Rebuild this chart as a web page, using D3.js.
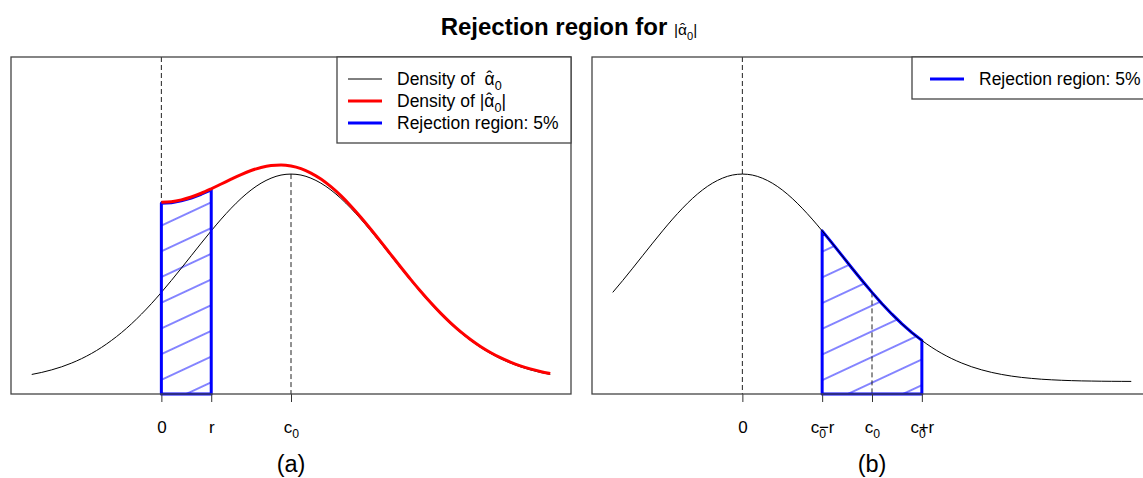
<!DOCTYPE html>
<html>
<head>
<meta charset="utf-8">
<script src="https://cdn.jsdelivr.net/npm/d3@7"></script>
<style>
  body { margin: 0; background: #fff; }
  text { font-family: "Liberation Sans", Arial, sans-serif; fill: #000; white-space: pre; }
</style>
</head>
<body>
<svg id="chart" width="1143" height="478"></svg>
<script>
// x positions of the sampled curves (same range in both panels)
const xGrid = [-1.3,-1.2,-1.1,-1.0,-0.9,-0.8,-0.7,-0.6,-0.5,-0.4,-0.3,-0.2,-0.1,0.0,
  0.1,0.2,0.3,0.4,0.5,0.6,0.7,0.8,0.9,1.0,1.1,1.2,1.3,1.4,1.5,1.6,1.7,1.8,1.9,2.0,
  2.1,2.2,2.3,2.4,2.5,2.6,2.7,2.8,2.9,3.0,3.1,3.2,3.3,3.4,3.5,3.6,3.7,3.8,3.9];
const xGridAbs = xGrid.slice(13);

// panel (a): density of alpha0-hat, centred on c0
const densAlpha = [0.0136,0.0175,0.0224,0.0283,0.0355,0.0440,0.0540,0.0656,0.0790,0.0940,
  0.1109,0.1295,0.1497,0.1714,0.1942,0.2179,0.2420,0.2661,0.2897,0.3123,0.3332,0.3521,
  0.3683,0.3814,0.3910,0.3970,0.3989,0.3970,0.3910,0.3814,0.3683,0.3521,0.3332,0.3123,
  0.2897,0.2661,0.2420,0.2179,0.1942,0.1714,0.1497,0.1295,0.1109,0.0940,0.0790,0.0656,
  0.0540,0.0440,0.0355,0.0283,0.0224,0.0175,0.0136];
// panel (a): density of |alpha0-hat|
const densAbs = [0.3428,0.3439,0.3474,0.3529,0.3601,0.3687,0.3779,0.3872,0.3961,0.4038,
  0.4097,0.4134,0.4145,0.4125,0.4074,0.3989,0.3874,0.3727,0.3554,0.3356,0.3140,0.2909,
  0.2670,0.2426,0.2183,0.1945,0.1716,0.1498,0.1295,0.1109,0.0940,0.0790,0.0656,0.0540,
  0.0440,0.0355,0.0283,0.0224,0.0175,0.0136];
// panel (b): density centred on 0
const densNull = [0.1714,0.1942,0.2179,0.2420,0.2661,0.2897,0.3123,0.3332,0.3521,0.3683,
  0.3814,0.3910,0.3970,0.3989,0.3970,0.3910,0.3814,0.3683,0.3521,0.3332,0.3123,0.2897,
  0.2661,0.2420,0.2179,0.1942,0.1714,0.1497,0.1295,0.1109,0.0940,0.0790,0.0656,0.0540,
  0.0440,0.0355,0.0283,0.0224,0.0175,0.0136,0.0104,0.0079,0.0060,0.0044,0.0033,0.0024,
  0.0017,0.0012,0.0009,0.0006,0.0004,0.0003,0.0002];

const c0 = 1.3;
const r = 0.5;
const ticksA = [0, r, c0];
const tickLabelsA = [["0"], ["r"], [["c"], ["0", "sub"]]];
const ticksB = [0, c0 - r, c0, c0 + r];
const tickLabelsB = [["0"], [["c"], ["0", "sub"], ["\u2212r", "over"]], [["c"], ["0", "sub"]], [["c"], ["0", "sub"], ["+r", "over"]]];

const svg = d3.select("#chart");
const plotTop = 57, plotBottom = 394, panelW = 560;
const y = d3.scaleLinear([-0.024, 0.624], [plotBottom, plotTop]);
const xA = d3.scaleLinear([-1.508, 4.108], [11, 11 + panelW]);
const xB = d3.scaleLinear([-1.508, 4.108], [592, 592 + panelW]);

const hatchGap = 23.3;
svg.append("defs").append("pattern")
    .attr("id", "hatch")
    .attr("patternUnits", "userSpaceOnUse")
    .attr("width", 20).attr("height", hatchGap)
    .attr("patternTransform", `translate(161,${301.7 - hatchGap / 2}) rotate(-25)`)
  .append("line")
    .attr("x1", 0).attr("x2", 20)
    .attr("y1", hatchGap / 2).attr("y2", hatchGap / 2)
    .attr("stroke", "blue").attr("stroke-width", 1.1).attr("stroke-opacity", 0.85);

// text with sub-scripts and hats
function rich(text, parts, size) {
  let shift = 0;
  let pendingDx = 0;
  parts.forEach(([t, kind]) => {
    const ts = text.append("tspan").text(t).attr("font-size", size);
    let want = 0;
    let dx = pendingDx;
    pendingDx = 0;
    if (kind === "sub") { want = size * 0.3; ts.attr("font-size", size * 0.72); }
    if (kind === "over") { dx += -size * 0.42; }
    if (dx) ts.attr("dx", dx);
    if (want - shift !== 0) ts.attr("dy", want - shift);
    shift = want;
    if (kind === "hat") {
      // circumflex centred over the letter just written
      text.append("tspan").text("\u02c6").attr("font-size", size)
          .attr("dx", -0.46 * size).attr("dy", -0.05 * size);
      shift = -0.05 * size;
      pendingDx = 0.13 * size;
    }
  });
}

const line = x => d3.line().x(d => x(d[0])).y(d => y(d[1])).curve(d3.curveMonotoneX);

function region(xs, ys, lo, hi) {
  const pts = xs.map((v, i) => [v, ys[i]]).filter(d => d[0] >= lo - 1e-9 && d[0] <= hi + 1e-9);
  return [[lo, y.domain()[0]], ...pts, [hi, y.domain()[0]]];
}

function frame(g, x, ticks, labels, sub) {
  const axis = g.append("g")
      .attr("transform", `translate(0,${plotBottom})`)
      .call(d3.axisBottom(x).tickValues(ticks).tickFormat("").tickSize(8).tickSizeOuter(0));
  axis.select(".domain").remove();
  axis.selectAll(".tick line").attr("stroke", "#333");
  axis.selectAll(".tick").each(function(d, i) {
    const t = d3.select(this).append("text")
        .attr("y", 39).attr("text-anchor", "middle").attr("font-size", 17);
    const lab = labels[i];
    rich(t, typeof lab[0] === "string" ? [lab] : lab, 17);
  });
  g.append("rect")
      .attr("x", x.range()[0]).attr("y", plotTop)
      .attr("width", x.range()[1] - x.range()[0]).attr("height", plotBottom - plotTop)
      .attr("fill", "none").attr("stroke", "#444").attr("stroke-width", 1.3);
  g.append("text")
      .attr("x", (x.range()[0] + x.range()[1]) / 2).attr("y", 472)
      .attr("text-anchor", "middle").attr("font-size", 23.5)
      .text(sub);
}

function dashed(g, x, xv, y1, y2) {
  g.append("line")
      .attr("x1", x(xv)).attr("x2", x(xv))
      .attr("y1", y1).attr("y2", y2)
      .attr("stroke", "#222").attr("stroke-dasharray", "5,3");
}

function legend(g, x, w, inset, items) {
  const h = 12 + items.length * 22 + 8;
  const x0 = x.range()[1] - w;
  g.append("rect")
      .attr("x", x0).attr("y", plotTop).attr("width", w).attr("height", h)
      .attr("fill", "#fff").attr("stroke", "#444").attr("stroke-width", 1.3);
  items.forEach((it, i) => {
    const yy = plotTop + 22 + i * 22;
    g.append("line")
        .attr("x1", x0 + inset).attr("x2", x0 + inset + 34)
        .attr("y1", yy).attr("y2", yy)
        .attr("stroke", it.color).attr("stroke-width", it.width);
    const t = g.append("text")
        .attr("x", x0 + inset + 49).attr("y", yy + 6).attr("font-size", 17.5);
    rich(t, it.parts, 17.5);
  });
}

// ---- panel (a)
const gA = svg.append("g");
const regA = region(xGridAbs, densAbs, 0, r);
gA.append("path").attr("d", d3.line().x(d => xA(d[0])).y(d => y(d[1]))(regA))
    .attr("fill", "url(#hatch)");
dashed(gA, xA, 0, plotTop, plotBottom);
dashed(gA, xA, c0, y(densAlpha[xGrid.indexOf(c0)]), plotBottom);
gA.append("path").datum(xGrid.map((v, i) => [v, densAlpha[i]]))
    .attr("d", line(xA)).attr("fill", "none").attr("stroke", "#000").attr("stroke-width", 1);
gA.append("path").attr("d", d3.line().x(d => xA(d[0])).y(d => y(d[1]))(regA) + "Z")
    .attr("fill", "none").attr("stroke", "blue").attr("stroke-width", 3).attr("stroke-linejoin", "round");
gA.append("path").datum(xGridAbs.map((v, i) => [v, densAbs[i]]))
    .attr("d", line(xA)).attr("fill", "none").attr("stroke", "red").attr("stroke-width", 3)
    .attr("transform", "translate(0,-1)");
frame(gA, xA, ticksA, tickLabelsA, "(a)");
legend(gA, xA, 234, 11, [
  {color: "#000", width: 1, parts: [["Density of  "], ["\u03b1", "hat"], ["0", "sub"]]},
  {color: "red", width: 3, parts: [["Density of |"], ["\u03b1", "hat"], ["0", "sub"], ["|"]]},
  {color: "blue", width: 3, parts: [["Rejection region: 5%"]]}
]);

// ---- panel (b)
const gB = svg.append("g");
const regB = region(xGrid, densNull, c0 - r, c0 + r);
gB.append("path").attr("d", d3.line().x(d => xB(d[0])).y(d => y(d[1]))(regB))
    .attr("fill", "url(#hatch)");
dashed(gB, xB, 0, plotTop, plotBottom);
dashed(gB, xB, c0, y(densNull[xGrid.indexOf(c0)]), plotBottom);
gB.append("path").attr("d", d3.line().x(d => xB(d[0])).y(d => y(d[1]))(regB) + "Z")
    .attr("fill", "none").attr("stroke", "blue").attr("stroke-width", 3).attr("stroke-linejoin", "round");
gB.append("path").datum(xGrid.map((v, i) => [v, densNull[i]]))
    .attr("d", line(xB)).attr("fill", "none").attr("stroke", "#000").attr("stroke-width", 1);
frame(gB, xB, ticksB, tickLabelsB, "(b)");
legend(gB, xB, 240, 18, [
  {color: "blue", width: 3, parts: [["Rejection region: 5%"]]}
]);

// ---- title
const title = svg.append("text")
    .attr("x", 569).attr("y", 35).attr("text-anchor", "middle").attr("font-size", 24);
title.append("tspan").attr("font-size", 24).attr("font-weight", "bold").text("Rejection region for ");
rich(title, [["|"], ["\u03b1", "hat"], ["0", "sub"], ["|"]], 15.5);
</script>
</body>
</html>
